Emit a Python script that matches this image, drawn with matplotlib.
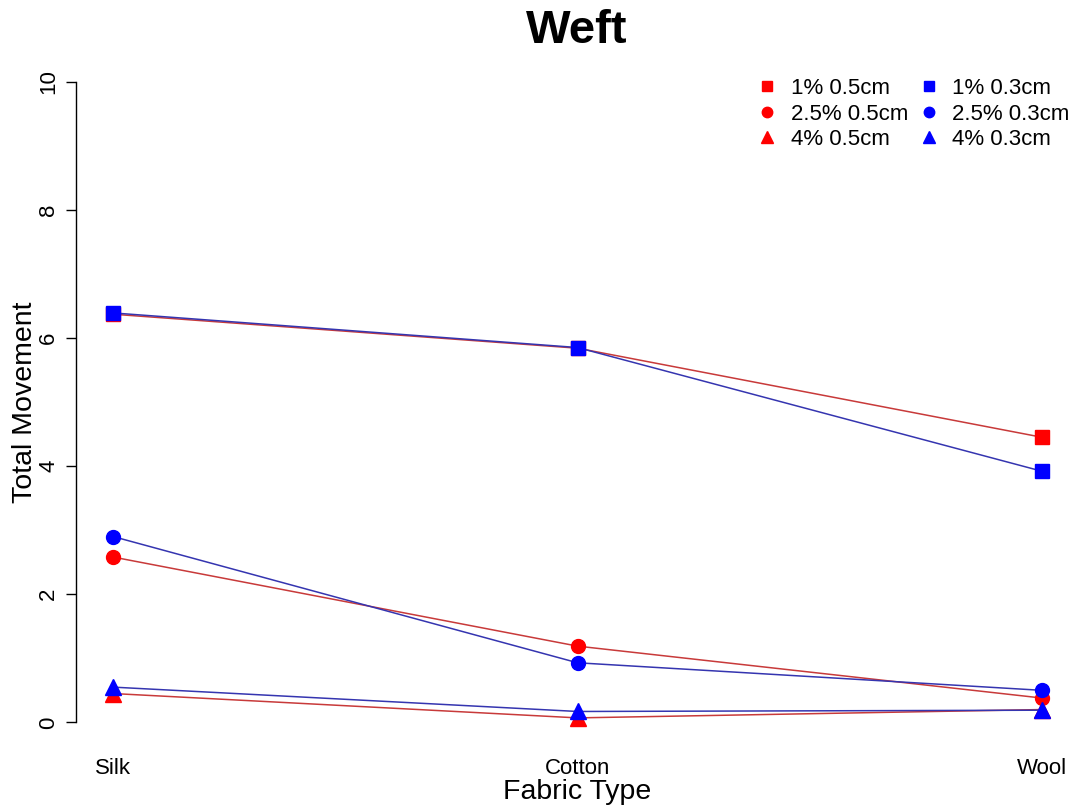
import matplotlib
matplotlib.use("Agg")
import matplotlib.pyplot as plt

plt.rcParams['font.family'] = ['Liberation Sans', 'DejaVu Sans']

categories = ["Silk", "Cotton", "Wool"]
red_1 = [6.37, 5.84, 4.45]
red_25 = [2.58, 1.19, 0.38]
red_4 = [0.45, 0.07, 0.20]
blue_1 = [6.39, 5.85, 3.92]
blue_25 = [2.90, 0.93, 0.50]
blue_4 = [0.55, 0.17, 0.19]
labels_red = ["1% 0.5cm", "2.5% 0.5cm", "4% 0.5cm"]
labels_blue = ["1% 0.3cm", "2.5% 0.3cm", "4% 0.3cm"]
yticks = [0, 2, 4, 6, 8, 10]

W, H = 1077, 810
fig = plt.figure(figsize=(W / 100, H / 100), dpi=100)
ax = fig.add_axes([76 / W, (H - 748) / H, (1079 - 76) / W, (748 - 56) / H])
x = [1, 2, 3]
markers = ['s', 'o', '^']
msizes = [10, 10, 11]
line_red = '#c83a3a'
line_blue = '#3535b0'

handles_red, handles_blue = [], []
for vals, m, ms, lab in zip([red_1, red_25, red_4], markers, msizes, labels_red):
    ax.plot(x, vals, color=line_red, lw=1.1, zorder=2)
    h, = ax.plot(x, vals, linestyle='none', marker=m, ms=ms, color='#ff0000',
                 markeredgecolor='#ff0000', zorder=3, label=lab)
    handles_red.append(h)
for vals, m, ms, lab in zip([blue_1, blue_25, blue_4], markers, msizes, labels_blue):
    ax.plot(x, vals, color=line_blue, lw=1.1, zorder=4)
    h, = ax.plot(x, vals, linestyle='none', marker=m, ms=ms, color='#0000ff',
                 markeredgecolor='#0000ff', zorder=5, label=lab)
    handles_blue.append(h)

ax.set_xlim(0.92, 3.08)
ax.set_ylim(-0.4, 10.4)
for s in ['top', 'right', 'bottom']:
    ax.spines[s].set_visible(False)
ax.spines['left'].set_bounds(0, 10)
ax.spines['left'].set_linewidth(1.0)
ax.set_yticks(yticks)
ax.set_yticklabels([str(t) for t in yticks], rotation=90, va='center', fontsize=16)
ax.tick_params(axis='y', length=7, width=1.0, pad=5)
ax.set_xticks(x)
ax.set_xticklabels(categories, fontsize=16)
ax.tick_params(axis='x', length=0, pad=7)

ax.set_xlabel("Fabric Type", fontsize=20.5, labelpad=0)
ax.set_ylabel("Total Movement", fontsize=20.5, labelpad=0)
fig.text(577 / W, 1 - 31 / H, "Weft", fontsize=34, fontweight='bold', ha='center', va='center')

leg_handles = handles_red + handles_blue
leg = ax.legend(handles=leg_handles, ncol=2, frameon=False, loc='upper left',
                bbox_to_anchor=(745 / W, 1 - 67 / H), bbox_transform=fig.transFigure,
                fontsize=16, handlelength=1.0, handletextpad=0.55, columnspacing=0.45,
                labelspacing=0.2, borderpad=0, markerscale=0.75)

fig.savefig("out.png", dpi=100, facecolor='white')
